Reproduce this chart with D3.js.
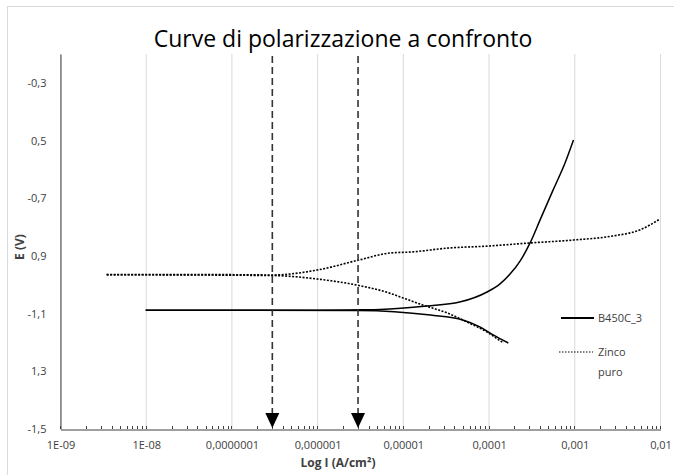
<!DOCTYPE html>
<html>
<head>
<meta charset="utf-8">
<script src="https://cdn.jsdelivr.net/npm/d3@7"></script>
<style>
  body { margin: 0; background: #fff; }
  text { font-family: "Open Sans", "Liberation Sans", sans-serif; }
</style>
</head>
<body>
<script>
var w = 674;
var h = 475;

// tick values / labels (labels as printed in the original)
var xTicks = [1e-9, 1e-8, 1e-7, 1e-6, 1e-5, 1e-4, 1e-3, 1e-2];
var xTickLabels = ["1E-09", "1E-08", "0,0000001", "0,000001", "0,00001", "0,0001", "0,001", "0,01"];
var yTicks = [-0.3, -0.5, -0.7, -0.9, -1.1, -1.3, -1.5];
var yTickLabels = ["-0,3", "0,5", "-0,7", "0,9", "-1,1", "1,3", "-1,5"];

// B450C_3 - current (A/cm2) and potential (V)
var b450AnI = [1e-8, 1e-6, 3.2e-6, 5.4e-6, 1.9e-5, 4.6e-5, 9.6e-5, 1.36e-4, 1.78e-4, 2.33e-4, 3.05e-4, 3.98e-4, 5.65e-4, 7.8e-4, 9.8e-4];
var b450AnE = [-1.088, -1.088, -1.087, -1.086, -1.074, -1.060, -1.025, -0.997, -0.963, -0.918, -0.855, -0.776, -0.672, -0.578, -0.498];
var b450CatI = [1e-8, 3e-6, 2.1e-5, 5e-5, 7.9e-5, 1.13e-4, 1.7e-4];
var b450CatE = [-1.088, -1.089, -1.105, -1.122, -1.146, -1.174, -1.202];

// Zinco puro
var zincAnI = [3.5e-9, 1e-7, 3e-7, 1e-6, 3.1e-6, 7e-6, 1.3e-5, 3.3e-5, 9.6e-5, 3.05e-4, 9.7e-4, 2.8e-3, 5.8e-3, 1e-2];
var zincAnE = [-0.965, -0.965, -0.966, -0.949, -0.914, -0.890, -0.886, -0.873, -0.866, -0.855, -0.845, -0.831, -0.810, -0.772];
var zincCatI = [3.5e-9, 3e-7, 1e-6, 2.9e-6, 7e-6, 9.3e-6, 1.7e-5, 3.3e-5, 5.6e-5, 9.6e-5, 1.3e-4, 1.5e-4];
var zincCatE = [-0.965, -0.968, -0.980, -1.001, -1.029, -1.042, -1.070, -1.098, -1.129, -1.164, -1.190, -1.202];

// corrosion currents marked with arrows
var icorr = [3e-7, 3e-6];

var svg;
drawContent();
function drawContent(){
    svg = d3.select("body")
        .append("svg")
        .attr("width", w)
        .attr("height", h);

    // chart frame
    svg.append("rect")
        .attr("x", 7.5)
        .attr("y", 6.5)
        .attr("width", 700)
        .attr("height", 500)
        .attr("fill", "#fff")
        .attr("stroke", "#d9d9d9");

    var x = d3.scaleLog().domain([1e-9, 1e-2]).range([60, 660]);
    var y = d3.scaleLinear().domain([-1.5, -0.2]).range([429, 54]);

    //---grid-----
    svg.selectAll(".grid")
        .data(xTicks)
        .enter().append("line")
        .attr("x1", function(d){ return x(d) + 0.5; })
        .attr("x2", function(d){ return x(d) + 0.5; })
        .attr("y1", y(-0.2))
        .attr("y2", y(-1.5))
        .attr("stroke", "#d9d9d9");

    //---axes-----
    var xAxis = d3.axisBottom(x)
        .tickValues(xTicks)
        .tickSize(0)
        .tickPadding(12)
        .tickFormat(function(d, i){ return xTickLabels[i]; });
    var gx = svg.append("g")
        .attr("transform", "translate(0.5," + (y(-1.5) + 0.5) + ")")
        .call(xAxis);
    gx.select(".domain").attr("stroke", "#404040");
    gx.selectAll("text").attr("font-size", 11).attr("fill", "#404040")
        .attr("font-family", "'Open Sans', sans-serif");

    // minor log ticks pointing up
    var minor = [];
    for (var e = -9; e < -2; e++) {
        for (var m = 1; m < 10; m++) minor.push(m * Math.pow(10, e));
    }
    minor.push(1e-2);
    svg.selectAll(".mtick")
        .data(minor)
        .enter().append("line")
        .attr("x1", function(d){ return Math.round(x(d)) + 0.5; })
        .attr("x2", function(d){ return Math.round(x(d)) + 0.5; })
        .attr("y1", y(-1.5))
        .attr("y2", y(-1.5) - 3)
        .attr("stroke", "#404040");

    var yAxis = d3.axisLeft(y)
        .tickValues(yTicks)
        .tickSize(0)
        .tickPadding(14)
        .tickFormat(function(d, i){ return yTickLabels[i]; });
    var gy = svg.append("g")
        .attr("transform", "translate(" + (x(1e-9) + 0.5) + ",0)")
        .call(yAxis);
    gy.select(".domain").attr("stroke", "#404040");
    gy.selectAll("text").attr("font-size", 11).attr("fill", "#404040")
        .attr("font-family", "'Open Sans', sans-serif");

    //-----curves------
    var line = d3.line()
        .x(function(d){ return x(d[0]); })
        .y(function(d){ return y(d[1]); })
        .curve(d3.curveMonotoneX);

    function pts(a, b){ return a.map(function(v, i){ return [v, b[i]]; }); }

    svg.append("path")
        .attr("d", line(pts(zincAnI, zincAnE)))
        .attr("fill", "none")
        .attr("stroke", "#000")
        .attr("stroke-width", 1.6)
        .attr("stroke-dasharray", "2,1.5");
    svg.append("path")
        .attr("d", line(pts(zincCatI, zincCatE)))
        .attr("fill", "none")
        .attr("stroke", "#000")
        .attr("stroke-width", 1.6)
        .attr("stroke-dasharray", "2,1.5");

    svg.append("path")
        .attr("d", line(pts(b450AnI, b450AnE)))
        .attr("fill", "none")
        .attr("stroke", "#000")
        .attr("stroke-width", 1.5);
    svg.append("path")
        .attr("d", line(pts(b450CatI, b450CatE)))
        .attr("fill", "none")
        .attr("stroke", "#000")
        .attr("stroke-width", 1.5);

    //-----arrows------
    svg.selectAll(".arrow")
        .data(icorr)
        .enter().append("line")
        .attr("x1", function(d){ return x(d); })
        .attr("x2", function(d){ return x(d); })
        .attr("y1", 56)
        .attr("y2", 414)
        .attr("stroke", "#333")
        .attr("stroke-width", 1.6)
        .attr("stroke-dasharray", "7,4");
    svg.selectAll(".head")
        .data(icorr)
        .enter().append("path")
        .attr("d", function(d){
            var cx = x(d);
            return "M" + (cx - 7) + ",413 L" + (cx + 7) + ",413 L" + cx + ",428 Z";
        })
        .attr("fill", "#000");

    //-----text------
    svg.append("text")
        .text("Curve di polarizzazione a confronto")
        .attr("x", 343)
        .attr("y", 47)
        .attr("text-anchor", "middle")
        .attr("font-size", 23)
        .attr("fill", "#000");

    svg.append("text")
        .text("E (V)")
        .attr("transform", "translate(24,247) rotate(-90)")
        .attr("text-anchor", "middle")
        .attr("font-size", 12)
        .attr("font-weight", "bold")
        .attr("fill", "#404040");

    svg.append("text")
        .text("Log I (A/cm²)")
        .attr("x", 338)
        .attr("y", 467)
        .attr("text-anchor", "middle")
        .attr("font-size", 12)
        .attr("font-weight", "bold")
        .attr("fill", "#404040");

    //-----legend------
    svg.append("line")
        .attr("x1", 561).attr("x2", 594)
        .attr("y1", 318).attr("y2", 318)
        .attr("stroke", "#000").attr("stroke-width", 2);
    svg.append("text")
        .text("B450C_3")
        .attr("x", 598).attr("y", 322)
        .attr("font-size", 11).attr("fill", "#404040");

    svg.append("line")
        .attr("x1", 559).attr("x2", 593)
        .attr("y1", 352).attr("y2", 352)
        .attr("stroke", "#000").attr("stroke-width", 1.2)
        .attr("stroke-dasharray", "1.5,1.5");
    svg.append("text")
        .text("Zinco")
        .attr("x", 598).attr("y", 356)
        .attr("font-size", 11).attr("fill", "#404040");
    svg.append("text")
        .text("puro")
        .attr("x", 598).attr("y", 376)
        .attr("font-size", 11).attr("fill", "#404040");
}
</script>
</body>
</html>
